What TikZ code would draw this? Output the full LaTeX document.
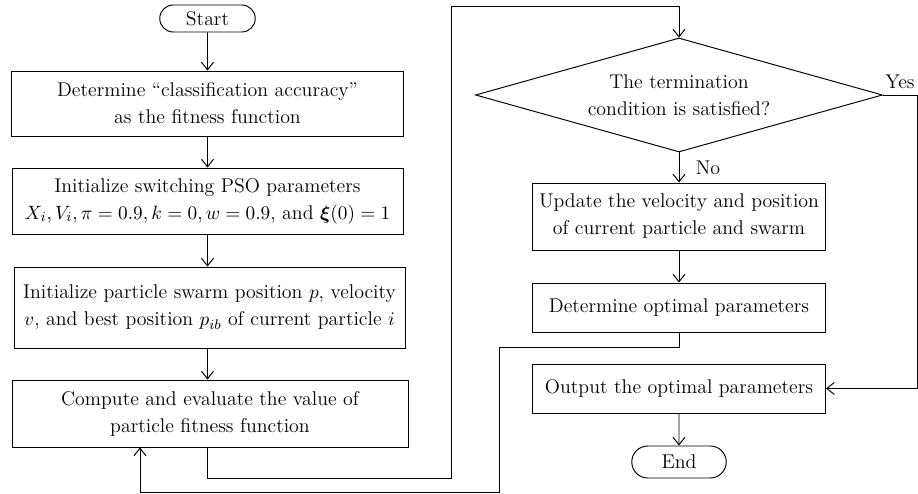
\documentclass[tikz,border=0pt]{standalone}
\usepackage{amsmath,amssymb}
\usepackage{tikz}
\usetikzlibrary{arrows.meta,positioning,shapes.geometric,shapes.misc}

\begin{document}
\begin{tikzpicture}[
  box/.style={draw, line width=0.55pt, align=center, inner sep=2pt, font=\fontsize{11.3}{15.4}\selectfont},
  term/.style={draw, rounded rectangle, line width=0.55pt, inner sep=1pt, font=\fontsize{11.3}{15.4}\selectfont},
  decide/.style={draw, diamond, line width=0.55pt, align=center, inner sep=0pt, aspect=3.57, font=\fontsize{11.3}{15.4}\selectfont},
  arrow/.style={-{Straight Barb[length=0.15cm, width=0.24cm]}, line width=0.55pt},
  lbl/.style={font=\fontsize{11.3}{13}\selectfont}
]
\useasboundingbox (0,0) rectangle (18.36,9.88);

% Left column
\node[term, minimum width=1.98cm, minimum height=0.54cm] (start) at (4.15, 9.51) {Start};
\node[box, minimum width=7.84cm, minimum height=1.30cm] (fitness) at (4.15, 7.81) {Determine ``classification accuracy''\\as the fitness function};
\node[box, minimum width=7.82cm, minimum height=1.32cm] (initpso) at (4.15, 5.86) {Initialize switching PSO parameters\\$X_i, V_i, \pi = 0.9, k = 0, w = 0.9$, and $\boldsymbol{\xi}(0) = 1$};
\node[box, minimum width=7.82cm, minimum height=1.62cm] (initswarm) at (4.19, 3.73) {Initialize particle swarm position $p$, velocity\\$v$, and best position $p_{ib}$ of current particle $i$};
\node[box, minimum width=7.92cm, minimum height=1.34cm] (evaluate) at (4.20, 1.61) {Compute and evaluate the value of\\particle fitness function};

% Right column
\node[decide, minimum width=8.14cm, minimum height=2.28cm] (check) at (13.58, 7.98) {The termination\\condition is satisfied?};
\node[box, minimum width=5.86cm, minimum height=1.34cm] (update) at (13.58, 5.55) {Update the velocity and position\\of current particle and swarm};
\node[box, minimum width=5.86cm, minimum height=0.98cm] (optimal) at (13.58, 3.73) {Determine optimal parameters};
\node[box, minimum width=5.86cm, minimum height=0.98cm] (output) at (13.58, 2.11) {Output the optimal parameters};
\node[term, minimum width=1.96cm, minimum height=0.64cm] (end) at (13.58, 0.64) {End};

% Routing points
\coordinate (loopA) at (9.02, 0.32);
\coordinate (loopB) at (9.02, 9.76);
\coordinate (yesC) at (18.34, 7.98);
\coordinate (backA) at (9.98, 2.94);
\coordinate (backB) at (2.80, 0.03);

% Connections
\draw[arrow] (start) -- (fitness);
\draw[arrow] (fitness) -- (initpso);
\draw[arrow] (initpso.south) -- (initpso.south |- initswarm.north);
\draw[arrow] (initswarm.south -| initpso.south) -- (initpso.south |- evaluate.north);
\draw[arrow] (evaluate.south -| initpso.south) |- (loopA) -- (loopB) -| (check.north);
\draw[arrow] (check) -- node[lbl, right=6pt] {No} (update);
\draw[arrow] (check.east) -- node[lbl, above] {Yes} (yesC) |- (output.east);
\draw[arrow] (update) -- (optimal);
\draw[arrow] (optimal.south) |- (backA) |- (backB) -- (backB |- evaluate.south);
\draw[arrow] (output) -- (end);

\end{tikzpicture}
\end{document}
